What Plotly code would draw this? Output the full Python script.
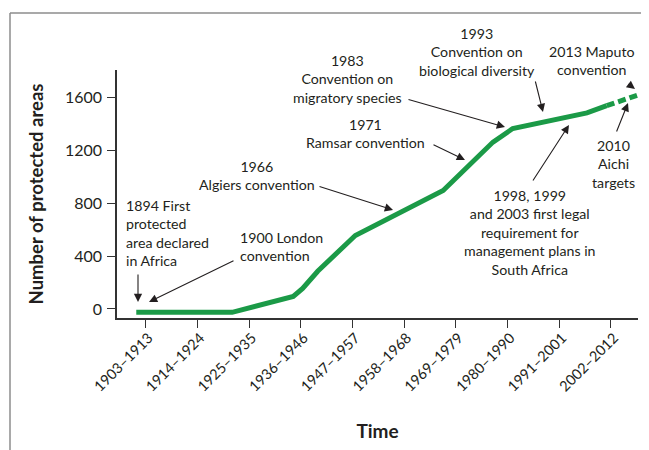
import plotly.graph_objects as go

# ---------------- data ----------------
tick_labels = ["1903–1913", "1914–1924", "1925–1935", "1936–1946", "1947–1957",
               "1958–1968", "1969–1979", "1980–1990", "1991–2001", "2002–2012"]
tick_years = [(int(s.split("–")[0]) + int(s.split("–")[1])) / 2 for s in tick_labels]

# solid part of the curve (year, number of protected areas)
solid_years = [1906.0, 1926.4, 1939.4, 1941.4, 1944.6, 1952.6, 1971.3, 1981.9, 1986.1, 2001.9, 2006.1]
solid_values = [-25, -25, 95, 155, 285, 555, 895, 1260, 1362, 1480, 1535]
# projected (dashed) part
dash_years = [2006.1, 2012.7]
dash_values = [1535, 1615]

y_ticks = [0, 400, 800, 1200, 1600]

# ---------------- layout helpers ----------------
OFF = 8                      # default page margin of the html body
W, H = 649 - OFF, 450 - OFF
L, R, T, B = 117 - OFF, 638 - OFF, 70 - OFF, 318 - OFF


def px(x):
    return (x - OFF - L) / (R - L)


def py(y):
    return (B - (y - OFF)) / (B - T)


TXT = "#231f20"
GREEN = "#1b9a47"
FONT = "Lato"

fig = go.Figure()
fig.add_trace(go.Scatter(x=solid_years, y=solid_values, mode="lines",
                         line=dict(color=GREEN, width=5), hoverinfo="skip", showlegend=False))
fig.add_trace(go.Scatter(x=dash_years, y=dash_values, mode="lines",
                         line=dict(color=GREEN, width=5, dash="8px,4px"), hoverinfo="skip", showlegend=False))

texts = [
    ("1894 First<br>protected<br>area declared<br>in Africa", 124, 232.5, "left"),
    ("1900 London<br>convention", 238, 246, "left"),
    ("1966<br>Algiers convention", 257, 175.5, "center"),
    ("1971<br>Ramsar convention", 365, 133, "center"),
    ("1983<br>Convention on<br>migratory species", 347, 78.7, "center"),
    ("1993<br>Convention on<br>biological diversity", 477, 51.7, "center"),
    ("2013 Maputo<br>convention", 592, 61, "center"),
    ("2010<br>Aichi<br>targets", 613, 163.7, "center"),
    ("1998, 1999<br>and 2003 first legal<br>requirement for<br>management plans in<br>South Africa", 530, 232.5, "center"),
]
for t, x, y, anc in texts:
    fig.add_annotation(text=t, xref="paper", yref="paper", x=px(x), y=py(y),
                       xanchor=anc, yanchor="middle", align=anc, showarrow=False,
                       font=dict(family=FONT, size=14.2, color=TXT))

arrows = [
    ((138, 273), (138, 302)),
    ((235, 260), (149, 302)),
    ((318, 186), (393, 210)),
    ((432, 144), (465, 160)),
    ((407, 99), (505, 127)),
    ((535, 80), (543, 112)),
    ((627, 83), (635, 89)),
    ((616, 133), (628, 103)),
    ((532, 182), (569, 125)),
]
for (tx, ty), (hx, hy) in arrows:
    fig.add_annotation(text="", xref="paper", yref="paper", x=px(hx), y=py(hy),
                       ax=tx - hx, ay=ty - hy, showarrow=True, arrowhead=2,
                       arrowsize=1.5, arrowwidth=1.1, arrowcolor=TXT, standoff=0, startstandoff=0)

# frame around the figure (top and left edges visible)
fig.add_shape(type="line", xref="paper", yref="paper", x0=px(10), y0=py(13), x1=px(670), y1=py(13),
              line=dict(color="#8c8c8c", width=1.5))
fig.add_shape(type="line", xref="paper", yref="paper", x0=px(10), y0=py(13), x1=px(10), y1=py(470),
              line=dict(color="#8c8c8c", width=1.5))

fig.update_layout(
    template="none",
    width=W, height=H,
    margin=dict(l=L, r=W - R, t=T, b=H - B, autoexpand=False),
    plot_bgcolor="white", paper_bgcolor="white",
    font=dict(family=FONT, size=14, color=TXT),
    xaxis=dict(range=[1901.9, 2012.75], tickvals=tick_years, ticktext=tick_labels,
               tickangle=-45, ticks="outside", ticklen=8, tickwidth=1.3, tickcolor="#333",
               showline=True, linecolor="#333", linewidth=1.5, showgrid=False, zeroline=False,
               automargin=False, ticklabelstandoff=-4, ticklabelshift=3,
               tickfont=dict(family=FONT, size=14.5, color=TXT),
               title=dict(text="<b>Time</b>", font=dict(family=FONT, size=19, color=TXT), standoff=31)),
    yaxis=dict(range=[-68, 1804], tickvals=y_ticks, ticks="outside", ticklen=8, tickwidth=1.3,
               tickcolor="#333", showline=True, linecolor="#333", linewidth=1.5, showgrid=False,
               zeroline=False, ticklabelstandoff=2, automargin=False,
               tickfont=dict(family=FONT, size=16, color=TXT),
               title=dict(text="<b>Number of protected areas</b>",
                          font=dict(family=FONT, size=18.5, color=TXT), standoff=16)),
)

fig.write_html("out.html")
